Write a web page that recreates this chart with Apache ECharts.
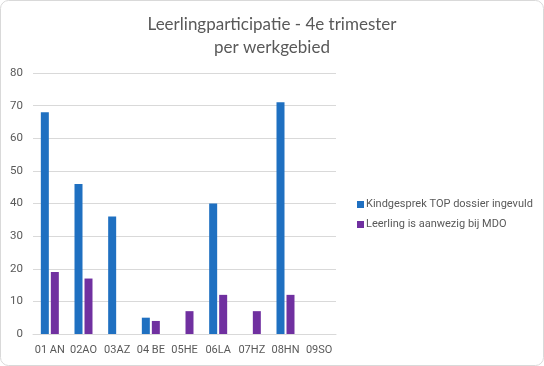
<!DOCTYPE html>
<html>
<head>
<meta charset="utf-8">
<script src="https://cdn.jsdelivr.net/npm/echarts@6/dist/echarts.min.js"></script>
<style>html,body{margin:0;padding:0;background:#fff}#c{width:544px;height:366px}</style>
</head>
<body>
<div id="c"></div>
<script>
const categories = ['01 AN','02AO','03AZ','04 BE','05HE','06LA','07HZ','08HN','09SO'];
const kindgesprek = [68, 46, 36, 5, 0, 40, 0, 71, 0];
const aanwezig = [19, 17, 0, 4, 7, 12, 7, 12, 0];
const seriesNames = ['Kindgesprek TOP dossier ingevuld', 'Leerling is aanwezig bij MDO'];
const titleLines = ['Leerlingparticipatie - 4e trimester', 'per werkgebied'];
const FONT = 'Roboto';
const chart = echarts.init(document.getElementById('c'));
chart.setOption({
  animation: false,
  textStyle: { fontFamily: FONT },
  graphic: [{
    type: 'rect', shape: { x: 0.5, y: 0.5, width: 543, height: 365, r: 8 },
    style: { fill: 'none', stroke: '#d9d9d9', lineWidth: 1 }, z: -1
  }, {
    type: 'text', x: 272, y: 25,
    style: { text: titleLines[0], textAlign: 'center', textVerticalAlign: 'middle',
      fontSize: 17, fontFamily: 'Lato', fill: '#595959' }
  }, {
    type: 'text', x: 272, y: 48,
    style: { text: titleLines[1], textAlign: 'center', textVerticalAlign: 'middle',
      fontSize: 17, fontFamily: 'Lato', fill: '#595959' }
  }],
  legend: {
    orient: 'vertical', left: 352, top: 194, itemGap: 9,
    icon: 'rect', itemWidth: 7, itemHeight: 7,
    textStyle: { fontFamily: FONT, fontSize: 11, color: '#595959', padding: [0,0,0,-3] },
    data: seriesNames
  },
  grid: { left: 33, right: 208, top: 73, bottom: 32 },
  xAxis: {
    type: 'category', data: categories,
    axisLine: { lineStyle: { color: '#d9d9d9' } },
    axisTick: { show: false },
    axisLabel: { color: '#595959', fontSize: 11, margin: 11, interval: 0 }
  },
  yAxis: {
    type: 'value', min: 0, max: 80, interval: 10,
    axisLine: { show: false }, axisTick: { show: false },
    splitLine: { lineStyle: { color: '#d9d9d9' } },
    axisLabel: { color: '#595959', fontSize: 11.5, margin: 10 }
  },
  series: [
    { name: seriesNames[0], type: 'bar', data: kindgesprek, barWidth: 8, barGap: '25%',
      itemStyle: { color: '#1f70c1' } },
    { name: seriesNames[1], type: 'bar', data: aanwezig, barWidth: 8,
      itemStyle: { color: '#7030a0' } }
  ]
});
</script>
</body>
</html>
